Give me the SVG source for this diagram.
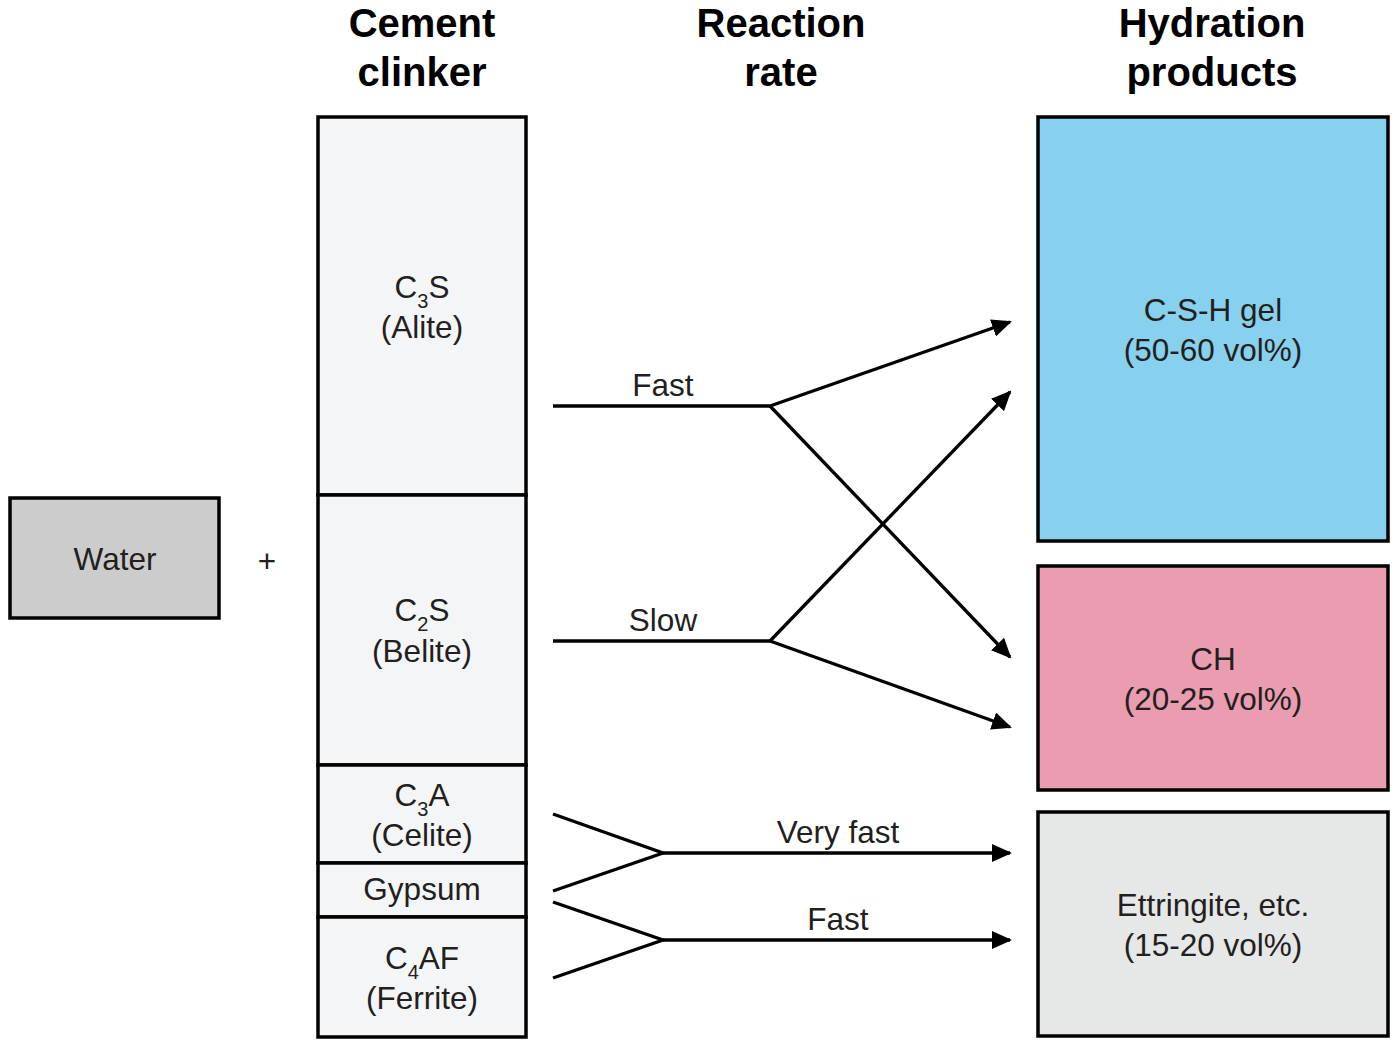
<svg xmlns="http://www.w3.org/2000/svg" width="1400" height="1051" viewBox="0 0 1400 1051">
<style>
.hd{font-family:"Liberation Sans",Arial,sans-serif;font-weight:bold;font-size:40px;fill:#000;text-anchor:middle}
.tx{font-family:"Liberation Sans",Arial,sans-serif;font-size:31.5px;fill:#231f20;text-anchor:middle}
.sub{font-size:20px}
.box{stroke:#000;stroke-width:3.5}
.ln{stroke:#000;stroke-width:3.3;fill:none}
</style>
<defs>
<marker id="ah" markerUnits="userSpaceOnUse" markerWidth="20" markerHeight="18" refX="18" refY="9" orient="auto">
<path d="M0,0 L20,9 L0,18 Z" fill="#000"/>
</marker>
</defs>
<rect width="1400" height="1051" fill="#fff"/>
<g id="headers">
<text class="hd" x="422" y="37">Cement</text>
<text class="hd" x="422" y="86">clinker</text>
<text class="hd" x="781" y="37">Reaction</text>
<text class="hd" x="781" y="86">rate</text>
<text class="hd" x="1212" y="37">Hydration</text>
<text class="hd" x="1212" y="86">products</text>
</g>
<g id="water">
<rect class="box" x="10" y="498" width="209" height="120" fill="#cccccc"/>
<text class="tx" x="115" y="570">Water</text>
</g>
<g id="plus"><text class="tx" x="267" y="572">+</text></g>
<g id="c3s">
<rect class="box" x="318" y="117" width="208" height="378" fill="#f4f5f7"/>
<text class="tx" x="422" y="298">C<tspan class="sub" dy="10">3</tspan><tspan dy="-10">S</tspan></text>
<text class="tx" x="422" y="338">(Alite)</text>
</g>
<g id="c2s">
<rect class="box" x="318" y="495" width="208" height="270" fill="#f4f5f7"/>
<text class="tx" x="422" y="621">C<tspan class="sub" dy="10">2</tspan><tspan dy="-10">S</tspan></text>
<text class="tx" x="422" y="662">(Belite)</text>
</g>
<g id="c3a">
<rect class="box" x="318" y="765" width="208" height="98" fill="#f4f5f7"/>
<text class="tx" x="422" y="806">C<tspan class="sub" dy="10">3</tspan><tspan dy="-10">A</tspan></text>
<text class="tx" x="422" y="846">(Celite)</text>
</g>
<g id="gypsum">
<rect class="box" x="318" y="863" width="208" height="54" fill="#f4f5f7"/>
<text class="tx" x="422" y="900">Gypsum</text>
</g>
<g id="c4af">
<rect class="box" x="318" y="917" width="208" height="120" fill="#f4f5f7"/>
<text class="tx" x="422" y="969">C<tspan class="sub" dy="10">4</tspan><tspan dy="-10">AF</tspan></text>
<text class="tx" x="422" y="1009">(Ferrite)</text>
</g>
<g id="csh">
<rect class="box" x="1038" y="117" width="350" height="424" fill="#87d0ee"/>
<text class="tx" x="1213" y="321">C-S-H gel</text>
<text class="tx" x="1213" y="361">(50-60 vol%)</text>
</g>
<g id="ch">
<rect class="box" x="1038" y="566" width="350" height="224" fill="#ea9db0"/>
<text class="tx" x="1213" y="670">CH</text>
<text class="tx" x="1213" y="710">(20-25 vol%)</text>
</g>
<g id="ettringite">
<rect class="box" x="1038" y="812" width="350" height="224" fill="#e6e7e7"/>
<text class="tx" x="1213" y="916">Ettringite, etc.</text>
<text class="tx" x="1213" y="956">(15-20 vol%)</text>
</g>
<g id="connectors">
<path class="ln" d="M553,406 H770"/>
<path class="ln" d="M770,406 L1010,322" marker-end="url(#ah)"/>
<path class="ln" d="M770,406 L1010,657" marker-end="url(#ah)"/>
<path class="ln" d="M553,641 H770"/>
<path class="ln" d="M770,641 L1010,392" marker-end="url(#ah)"/>
<path class="ln" d="M770,641 L1010,727" marker-end="url(#ah)"/>
<path class="ln" d="M553,814 L663,853 L553,891"/>
<path class="ln" d="M663,853 H1010" marker-end="url(#ah)"/>
<path class="ln" d="M553,902 L663,940 L553,978"/>
<path class="ln" d="M663,940 H1010" marker-end="url(#ah)"/>
<text class="tx" x="663" y="396">Fast</text>
<text class="tx" x="663" y="631">Slow</text>
<text class="tx" x="838" y="843">Very fast</text>
<text class="tx" x="838" y="930">Fast</text>
</g>
</svg>
